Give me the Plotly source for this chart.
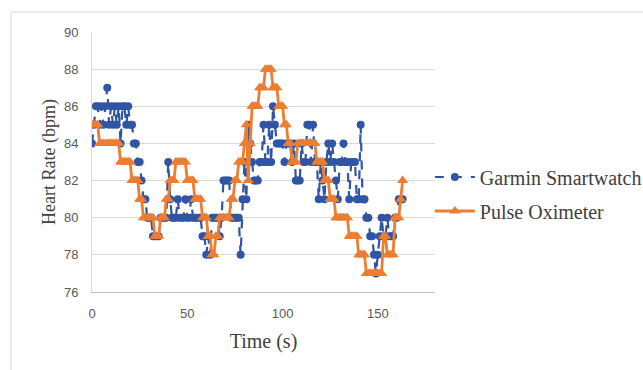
import plotly.graph_objects as go

# Time in seconds (1 Hz samples)
time_s = list(range(0, 164))

garmin_bpm = [
    84, 85, 86, 86, 85, 86, 85, 86, 87, 85,   # 0-9
    86, 85, 86, 85, 86, 84, 86, 86, 85, 86,   # 10-19
    85, 85, 84, 84, 83, 83, 82, 81, 81, 80,   # 20-29
    80, 80, 79, 79, 79, 79, 80, 80, 80, 80,   # 30-39
    83, 81, 80, 80, 80, 81, 80, 80, 80, 81,   # 40-49
    80, 80, 81, 80, 80, 80, 80, 80, 79, 79,   # 50-59
    78, 79, 78, 80, 80, 80, 80, 79, 80, 82,   # 60-69
    82, 82, 82, 80, 80, 80, 80, 80, 78, 81,   # 70-79
    83, 81, 85, 84, 83, 82, 82, 82, 83, 83,   # 80-89
    85, 83, 83, 85, 83, 86, 85, 84, 84, 84,   # 90-99
    84, 83, 84, 84, 84, 83, 84, 82, 82, 82,   # 100-109
    84, 83, 83, 85, 85, 83, 85, 83, 83, 81,   # 110-119
    83, 82, 81, 83, 84, 83, 84, 83, 82, 81,   # 120-129
    83, 83, 84, 83, 83, 81, 83, 83, 83, 81,   # 130-139
    81, 85, 81, 81, 80, 80, 79, 79, 78, 77,   # 140-149
    78, 79, 80, 79, 79, 80, 79, 79, 79, 80,   # 150-159
    80, 81, 81, 81,                           # 160-163
]

oximeter_bpm = [
    85, 85, 85, 85, 84, 84, 84, 84, 84, 84,   # 0-9
    84, 84, 84, 84, 84, 83, 83, 83, 83, 83,   # 10-19
    83, 82, 82, 82, 82, 81, 81, 80, 80, 80,   # 20-29
    80, 80, 80, 79, 79, 79, 80, 80, 80, 81,   # 30-39
    81, 82, 82, 82, 83, 83, 83, 83, 83, 83,   # 40-49
    82, 82, 82, 82, 81, 81, 81, 81, 80, 80,   # 50-59
    80, 79, 79, 78, 78, 79, 79, 80, 80, 80,   # 60-69
    80, 80, 80, 81, 81, 82, 82, 83, 83, 83,   # 70-79
    84, 85, 82, 84, 86, 86, 86, 86, 87, 87,   # 80-89
    87, 88, 88, 88, 88, 87, 87, 87, 86, 86,   # 90-99
    86, 85, 85, 84, 84, 83, 83, 83, 84, 84,   # 100-109
    84, 84, 84, 84, 84, 84, 84, 84, 83, 83,   # 110-119
    83, 83, 82, 82, 82, 81, 81, 81, 80, 80,   # 120-129
    80, 80, 80, 80, 80, 79, 79, 79, 79, 79,   # 130-139
    78, 78, 78, 78, 77, 77, 77, 77, 77, 77,   # 140-149
    77, 77, 77, 79, 79, 78, 78, 78, 78, 80,   # 150-159
    80, 80, 81, 82,                           # 160-163
]

x_ticks = [0, 50, 100, 150]
y_ticks = [76, 78, 80, 82, 84, 86, 88, 90]

BLUE = "#2F55A4"
ORANGE = "#ED7D31"
serif = "Liberation Serif"
sans = "Liberation Sans"

fig = go.Figure()
fig.add_trace(go.Scatter(
    x=time_s, y=garmin_bpm, name="Garmin Smartwatch", mode="lines+markers",
    legendgroup="g", line=dict(color=BLUE, width=2.2, dash="dash"),
    marker=dict(symbol="circle", size=8, color=BLUE),
))
fig.add_trace(go.Scatter(
    x=time_s, y=oximeter_bpm, name="Pulse Oximeter", mode="lines+markers",
    legendgroup="o", line=dict(color=ORANGE, width=2.8),
    marker=dict(symbol="triangle-up", size=10, color=ORANGE),
))

fig.update_layout(
    width=643, height=370,
    margin=dict(l=92, r=208, t=32, b=78, autoexpand=False),
    paper_bgcolor="white", plot_bgcolor="white",
    showlegend=True,
    legend=dict(
        x=0.985, y=0.377, xanchor="left", yanchor="middle",
        font=dict(family=serif, size=20, color="#404040"),
        itemwidth=40, traceorder="grouped", tracegroupgap=5,
        bgcolor="rgba(0,0,0,0)",
    ),
    xaxis=dict(
        range=[0, 180], tickvals=x_ticks, showgrid=False, zeroline=False,
        showline=True, linecolor="#BFBFBF", linewidth=1, ticks="",
        ticklabelstandoff=9,
        tickfont=dict(family=sans, size=13, color="#595959"),
        title=dict(text="Time (s)", font=dict(family=serif, size=20, color="#404040"), standoff=14),
    ),
    yaxis=dict(
        range=[76, 90], tickvals=y_ticks, showgrid=True, gridcolor="#D9D9D9", gridwidth=1,
        zeroline=False, showline=True, linecolor="#D9D9D9", linewidth=1, ticks="",
        ticklabelstandoff=10,
        tickfont=dict(family=sans, size=13, color="#595959"),
        title=dict(text="Heart Rate (bpm)", font=dict(family=serif, size=18, color="#404040"), standoff=3),
    ),
    shapes=[dict(
        type="rect", xref="paper", yref="paper",
        x0=(11 - 92) / 343, x1=(660 - 92) / 343, y0=(292 - 390) / 260, y1=(292 - 12) / 260,
        line=dict(color="#D9D9D9", width=1), fillcolor="rgba(0,0,0,0)", layer="below",
    )],
)

fig.write_html("out.html")
